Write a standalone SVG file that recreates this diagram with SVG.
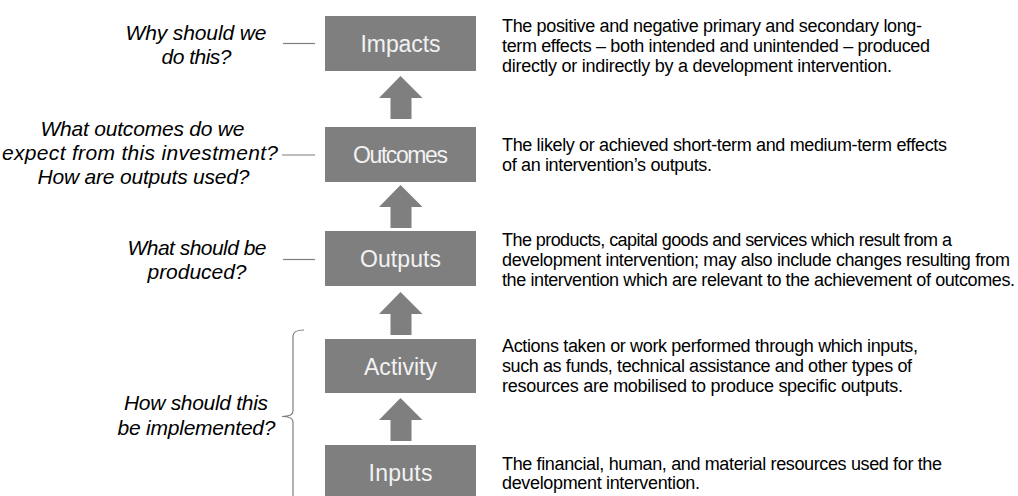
<svg xmlns="http://www.w3.org/2000/svg" width="1018" height="496" viewBox="0 0 1018 496">
<style>
.box{fill:#7f7f7f}
.lbl{font-family:"Liberation Sans",Arial,sans-serif;font-size:23px;fill:#f2f2f2;text-anchor:middle}
.q{font-family:"Liberation Sans",Arial,sans-serif;font-size:21px;font-style:italic;fill:#000;text-anchor:middle}
.d{font-family:"Liberation Sans",Arial,sans-serif;font-size:18px;fill:#000}
.ln{stroke:#7f7f7f;stroke-width:1.2;fill:none}
.arr{fill:#7f7f7f}
</style>
<defs>
<path id="uparrow" d="M0,0 L22,22 L11,22 L11,43 L-10,43 L-10,22 L-21.5,22 Z"/>
</defs>
<rect width="1018" height="496" fill="#ffffff"/>

<g id="connectors">
<use href="#uparrow" class="arr" x="400.5" y="76"/>
<use href="#uparrow" class="arr" x="400.5" y="185"/>
<use href="#uparrow" class="arr" x="400.5" y="292"/>
<use href="#uparrow" class="arr" x="400.5" y="398"/>
<line class="ln" x1="283" y1="43.5" x2="315" y2="43.5"/>
<line class="ln" x1="282" y1="155" x2="315" y2="155"/>
<line class="ln" x1="283" y1="259.5" x2="315" y2="259.5"/>
<path class="ln" d="M304,330 Q293,330 293,336 L293,411 Q293,416.5 282,416.5 Q293,416.5 293,422 L293,500"/>
</g>

<g id="impacts">
<rect class="box" x="325" y="16" width="151" height="55"/>
<text class="lbl" x="400.5" y="52" textLength="80" lengthAdjust="spacing">Impacts</text>
</g>
<g id="outcomes">
<rect class="box" x="325" y="127" width="151" height="55"/>
<text class="lbl" x="400.5" y="163" textLength="95" lengthAdjust="spacing">Outcomes</text>
</g>
<g id="outputs">
<rect class="box" x="325" y="231" width="151" height="55"/>
<text class="lbl" x="400.5" y="267" textLength="81" lengthAdjust="spacing">Outputs</text>
</g>
<g id="activity">
<rect class="box" x="325" y="339" width="151" height="54"/>
<text class="lbl" x="400.5" y="374.5" textLength="73" lengthAdjust="spacing">Activity</text>
</g>
<g id="inputs">
<rect class="box" x="325" y="445" width="151" height="60"/>
<text class="lbl" x="400.5" y="481" textLength="64" lengthAdjust="spacing">Inputs</text>
</g>

<g id="questions">
<text class="q" x="196" y="39.5" textLength="141" lengthAdjust="spacing">Why should we</text>
<text class="q" x="196.5" y="63.5" textLength="70" lengthAdjust="spacing">do this?</text>
<text class="q" x="142.5" y="135.5" textLength="204" lengthAdjust="spacing">What outcomes do we</text>
<text class="q" x="140" y="159.5" textLength="276" lengthAdjust="spacing">expect from this investment?</text>
<text class="q" x="143.5" y="183.5" textLength="212" lengthAdjust="spacing">How are outputs used?</text>
<text class="q" x="197" y="254.5" textLength="139" lengthAdjust="spacing">What should be</text>
<text class="q" x="197" y="278.5" textLength="99" lengthAdjust="spacing">produced?</text>
<text class="q" x="196" y="410" textLength="144" lengthAdjust="spacing">How should this</text>
<text class="q" x="196.5" y="435" textLength="158" lengthAdjust="spacing">be implemented?</text>
</g>

<g id="descriptions">
<text class="d" x="502" y="32" textLength="420" lengthAdjust="spacing">The positive and negative primary and secondary long-</text>
<text class="d" x="502" y="52" textLength="428" lengthAdjust="spacing">term effects – both intended and unintended – produced</text>
<text class="d" x="502" y="72" textLength="390" lengthAdjust="spacing">directly or indirectly by a development intervention.</text>
<text class="d" x="502" y="151" textLength="445" lengthAdjust="spacing">The likely or achieved short-term and medium-term effects</text>
<text class="d" x="502" y="171" textLength="210" lengthAdjust="spacing">of an intervention’s outputs.</text>
<text class="d" x="502" y="246" textLength="450" lengthAdjust="spacing">The products, capital goods and services which result from a</text>
<text class="d" x="502" y="266" textLength="508" lengthAdjust="spacing">development intervention; may also include changes resulting from</text>
<text class="d" x="502" y="285.5" textLength="513" lengthAdjust="spacing">the intervention which are relevant to the achievement of outcomes.</text>
<text class="d" x="502" y="351.5" textLength="416" lengthAdjust="spacing">Actions taken or work performed through which inputs,</text>
<text class="d" x="502" y="371.5" textLength="410" lengthAdjust="spacing">such as funds, technical assistance and other types of</text>
<text class="d" x="502" y="391.5" textLength="401" lengthAdjust="spacing">resources are mobilised to produce specific outputs.</text>
<text class="d" x="502" y="470" textLength="440" lengthAdjust="spacing">The financial, human, and material resources used for the</text>
<text class="d" x="502" y="489" textLength="198" lengthAdjust="spacing">development intervention.</text>
</g>
</svg>
